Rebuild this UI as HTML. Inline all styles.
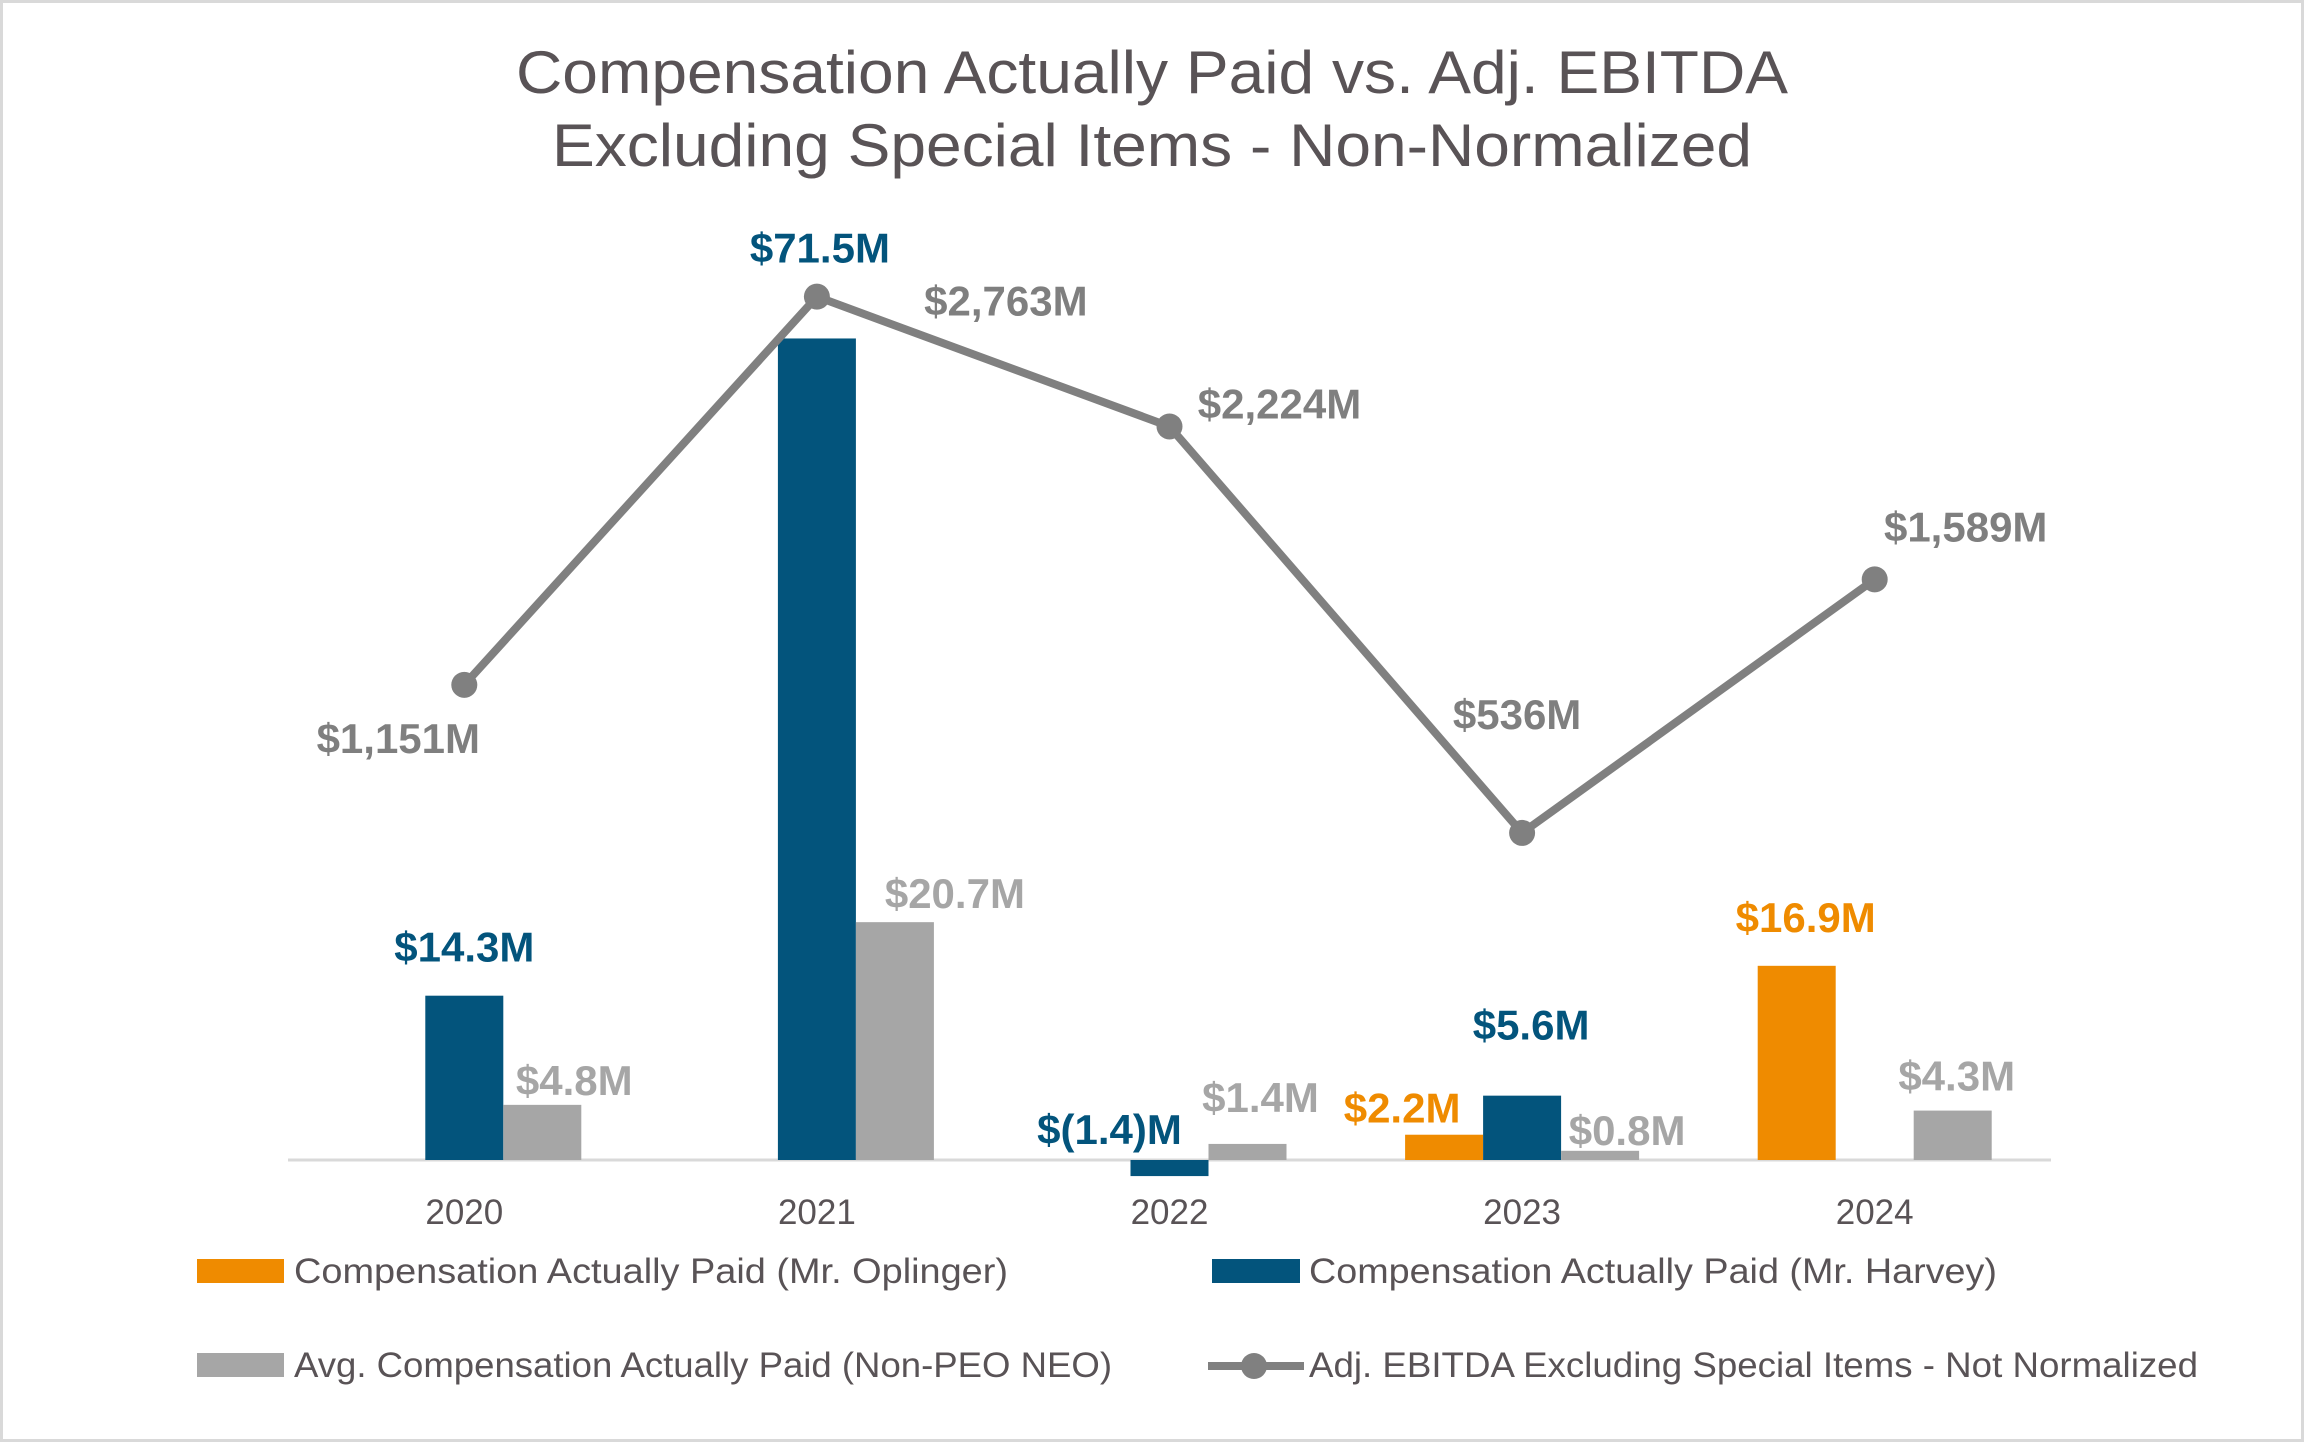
<!DOCTYPE html>
<html><head><meta charset="utf-8"><style>
html,body{margin:0;padding:0;background:#fff}
svg{display:block}
text{font-family:"Liberation Sans",sans-serif}
</style></head><body>
<svg id="chart" width="2304" height="1442" viewBox="0 0 2304 1442" xmlns="http://www.w3.org/2000/svg">
<rect x="1.5" y="1.5" width="2301" height="1439" fill="#fff" stroke="#d9d9d9" stroke-width="3"/>
<text x="1152" y="93" text-anchor="middle" font-size="60" fill="#595356" textLength="1272" lengthAdjust="spacingAndGlyphs">Compensation Actually Paid vs. Adj. EBITDA</text>
<text x="1152" y="166" text-anchor="middle" font-size="60" fill="#595356" textLength="1200" lengthAdjust="spacingAndGlyphs">Excluding Special Items - Non-Normalized</text>
<g id="plot"></g>
<g id="legend">
  <rect x="197" y="1259" width="87" height="24" fill="#ef8b00"/>
  <text x="294" y="1283" font-size="35" fill="#595356" textLength="714" lengthAdjust="spacingAndGlyphs">Compensation Actually Paid (Mr. Oplinger)</text>
  <rect x="1212" y="1259" width="88" height="24" fill="#03547c"/>
  <text x="1309" y="1283" font-size="35" fill="#595356" textLength="688" lengthAdjust="spacingAndGlyphs">Compensation Actually Paid (Mr. Harvey)</text>
  <rect x="197" y="1353" width="87" height="24" fill="#a6a6a6"/>
  <text x="294" y="1377" font-size="35" fill="#595356" textLength="818" lengthAdjust="spacingAndGlyphs">Avg. Compensation Actually Paid (Non-PEO NEO)</text>
  <line x1="1208" y1="1366" x2="1304" y2="1366" stroke="#808080" stroke-width="8"/>
  <circle cx="1254" cy="1366" r="13" fill="#808080"/>
  <text x="1309" y="1377" font-size="35" fill="#595356" textLength="889" lengthAdjust="spacingAndGlyphs">Adj. EBITDA Excluding Special Items - Not Normalized</text>
</g>
</svg>
<script>
const categories = ["2020","2021","2022","2023","2024"];
const oplinger = [null, null, null, 2.2, 16.9];
const harvey = [14.3, 71.5, -1.4, 5.6, null];
const nonPeo = [4.8, 20.7, 1.4, 0.8, 4.3];
const ebitda = [1151, 2763, 2224, 536, 1589];
const oplingerLabels = ["", "", "", "$2.2M", "$16.9M"];
const harveyLabels = ["$14.3M", "$71.5M", "$(1.4)M", "$5.6M", ""];
const nonPeoLabels = ["$4.8M", "$20.7M", "$1.4M", "$0.8M", "$4.3M"];
const ebitdaLabels = ["$1,151M", "$2,763M", "$2,224M", "$536M", "$1,589M"];

const NS = "http://www.w3.org/2000/svg";
const plot = document.getElementById("plot");
const x0 = 288, x1 = 2051, baseY = 1160;
const step = (x1 - x0) / categories.length;
const xCenter = i => x0 + step * (i + 0.5);
const yBar = v => baseY - v * 11.49;
const yLine = v => 962 - v * 0.2408;
const bw = 78;

function mk(tag, attrs, parent) {
  const el = document.createElementNS(NS, tag);
  for (const k in attrs) el.setAttribute(k, attrs[k]);
  (parent || plot).appendChild(el);
  return el;
}
function label(txt, x, y, color, name) {
  if (!txt) return;
  const t = mk("text", {x: x, y: y, "text-anchor": "middle", "font-size": 42, "font-weight": "bold", fill: color});
  
  
  t.textContent = txt;
}

const axis = mk("line", {x1: x0, y1: baseY, x2: x1, y2: baseY, stroke: "#d9d9d9", "stroke-width": 3});



const series = [
  {vals: oplinger, labels: oplingerLabels, color: "#ef8b00", off: -1, name: "oplinger"},
  {vals: harvey, labels: harveyLabels, color: "#03547c", off: 0, name: "harvey"},
  {vals: nonPeo, labels: nonPeoLabels, color: "#a6a6a6", off: 1, name: "non-peo"}
];
series.forEach(s => {
  s.vals.forEach((v, i) => {
    if (v === null) return;
    const cx = xCenter(i) + s.off * bw;
    const y = yBar(v);
    const r = mk("rect", {x: cx - bw / 2, y: Math.min(y, baseY), width: bw, height: Math.abs(baseY - y), fill: s.color});
    
    
  });
});

categories.forEach((c, i) => {
  const t = mk("text", {x: xCenter(i), y: 1224, "text-anchor": "middle", "font-size": 35, fill: "#595356"});
  
  
  t.textContent = c;
});

const pts = ebitda.map((v, i) => xCenter(i) + "," + yLine(v)).join(" ");
const pl = mk("polyline", {points: pts, fill: "none", stroke: "#808080", "stroke-width": 8, "stroke-linejoin": "round"});


ebitda.forEach((v, i) => {
  const c = mk("circle", {cx: xCenter(i), cy: yLine(v), r: 13, fill: "#808080"});
  
  
});

label(harveyLabels[0], xCenter(0), yBar(harvey[0]) - 34, "#03547c", "label-harvey-2020");
label(harveyLabels[1], xCenter(1) + 3, yBar(harvey[1]) - 76, "#03547c", "label-harvey-2021");
label(harveyLabels[2], xCenter(2) - 60, baseY - 16, "#03547c", "label-harvey-2022");
label(harveyLabels[3], xCenter(3) + 9, yBar(harvey[3]) - 56, "#03547c", "label-harvey-2023");
label(oplingerLabels[3], xCenter(3) - 120, yBar(oplinger[3]) - 12, "#ef8b00", "label-oplinger-2023");
label(oplingerLabels[4], xCenter(4) - 69, yBar(oplinger[4]) - 34, "#ef8b00", "label-oplinger-2024");
label(nonPeoLabels[0], xCenter(0) + 110, yBar(nonPeo[0]) - 10, "#a6a6a6", "label-non-peo-2020");
label(nonPeoLabels[1], xCenter(1) + 138, yBar(nonPeo[1]) - 14, "#a6a6a6", "label-non-peo-2021");
label(nonPeoLabels[2], xCenter(2) + 91, yBar(nonPeo[2]) - 32, "#a6a6a6", "label-non-peo-2022");
label(nonPeoLabels[3], xCenter(3) + 105, yBar(nonPeo[3]) - 6, "#a6a6a6", "label-non-peo-2023");
label(nonPeoLabels[4], xCenter(4) + 82, yBar(nonPeo[4]) - 20, "#a6a6a6", "label-non-peo-2024");
label(ebitdaLabels[0], xCenter(0) - 66, yLine(ebitda[0]) + 68, "#7f7f7f", "label-ebitda-2020");
label(ebitdaLabels[1], xCenter(1) + 189, yLine(ebitda[1]) + 19, "#7f7f7f", "label-ebitda-2021");
label(ebitdaLabels[2], xCenter(2) + 110, yLine(ebitda[2]) - 8, "#7f7f7f", "label-ebitda-2022");
label(ebitdaLabels[3], xCenter(3) - 5, yLine(ebitda[3]) - 104, "#7f7f7f", "label-ebitda-2023");
label(ebitdaLabels[4], xCenter(4) + 91, yLine(ebitda[4]) - 38, "#7f7f7f", "label-ebitda-2024");
</script>
</body></html>
